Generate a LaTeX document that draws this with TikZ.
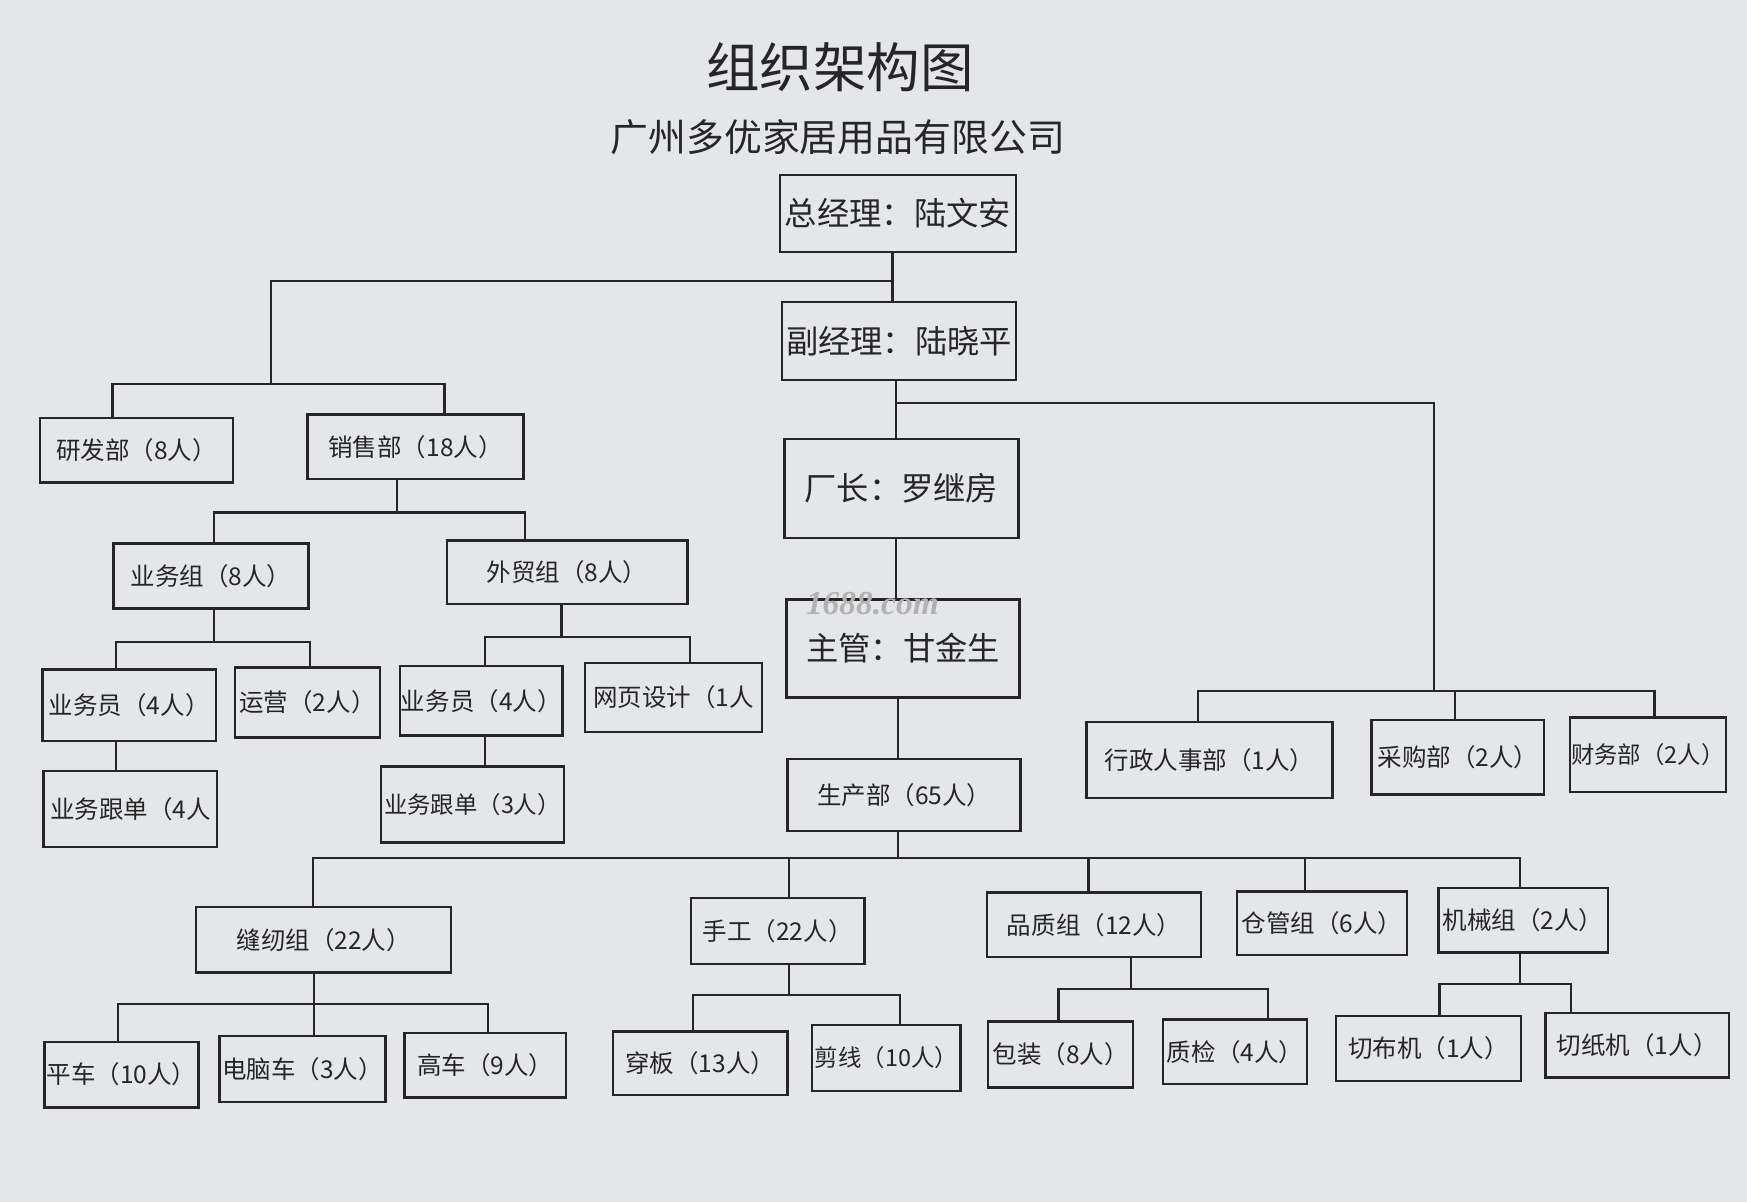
\documentclass[tikz,border=0pt]{standalone}
\usepackage{fontspec}
\setmainfont{Noto Sans CJK SC}
\newfontfamily\wmfont{Liberation Serif}
\definecolor{paper}{HTML}{E5E6E9}
\definecolor{ink}{HTML}{262626}
\tikzset{
  box/.style={draw=ink, line width=1.1pt, inner sep=0pt, text=ink, font=\fontsize{11}{13}\selectfont},
  big/.style={font=\fontsize{14.5}{16}\selectfont},
  tight/.style={font=\fontsize{10.5}{12}\selectfont},
  link/.style={draw=ink, line width=1pt, line join=miter},
}
\newcommand{\orgbox}[7][]{\node[box,#1,minimum width={(#5-#3)*0.5pt},minimum height={(#6-#4)*0.5pt}] (#2) at ({(#3+#5)/2},{(#4+#6)/2}) {#7};}
\begin{document}
\begin{tikzpicture}[x=0.5pt,y=-0.5pt]
\fill[paper] (0,0) rectangle (1568,1079);
\useasboundingbox (0,0) rectangle (1568,1079);

\node[text=ink,font=\fontsize{24}{28}\selectfont] (title) at (754,60) {组织架构图};
\node[text=ink,font=\fontsize{17}{20}\selectfont] (sub) at (752,123) {广州多优家居用品有限公司};

\orgbox[big]{zjl}{700}{157}{912}{226}{总经理：陆文安}
\orgbox[big]{fjl}{702}{271}{912}{341}{副经理：陆晓平}
\orgbox{yfb}{36}{375}{209}{433}{研发部（8人）}
\orgbox{xsb}{276}{372}{470}{430}{销售部（18人）}
\orgbox{ywz}{102}{488}{277}{546}{业务组（8人）}
\orgbox{wmz}{401}{485}{617}{542}{外贸组（8人）}
\orgbox{ywy}{38}{601}{194}{665}{业务员（4人）}
\orgbox{yy}{211}{599}{341}{662}{运营（2人）}
\orgbox{ywgd}{39}{692}{195}{760}{业务跟单（4人}
\orgbox{ywyb}{359}{598}{505}{660}{业务员（4人）}
\orgbox{wysj}{525}{595}{684}{657}{网页设计（1人}
\orgbox[tight]{ywgdb}{342}{688}{506}{756}{业务跟单（3人）}
\orgbox[big]{cz}{704}{394}{914}{483}{厂长：罗继房}
\orgbox[big]{zg}{706}{538}{915}{626}{主管：甘金生}
\orgbox{scb}{707}{681}{916}{746}{生产部（65人）}
\orgbox{xz}{975}{648}{1196}{716}{行政人事部（1人）}
\orgbox{cgb}{1231}{646}{1386}{713}{采购部（2人）}
\orgbox[tight]{cwb}{1409}{644}{1549}{711}{财务部（2人）}
\orgbox{frz}{176}{814}{405}{873}{缝纫组（22人）}
\orgbox{sg}{620}{806}{776}{865}{手工（22人）}
\orgbox{pzz}{886}{801}{1078}{859}{品质组（12人）}
\orgbox{cgz}{1110}{800}{1263}{857}{仓管组（6人）}
\orgbox{jxz}{1291}{797}{1443}{855}{机械组（2人）}
\orgbox{pc}{40}{935}{178}{994}{平车（10人）}
\orgbox{dnc}{197}{930}{346}{989}{电脑车（3人）}
\orgbox{gc}{363}{927}{508}{985}{高车（9人）}
\orgbox{cb}{550}{926}{707}{983}{穿板（13人）}
\orgbox[tight]{jxb}{729}{920}{862}{979}{剪线（10人）}
\orgbox{bz}{887}{917}{1017}{976}{包装（8人）}
\orgbox{zj}{1044}{915}{1173}{973}{质检（4人）}
\orgbox{cbj}{1199}{912}{1365}{970}{切布机（1人）}
\orgbox{czj}{1387}{909}{1552}{967}{切纸机（1人）}

\node[text=gray!60,font=\wmfont\bfseries\itshape\fontsize{15}{17}\selectfont] (wm) at (783,542) {1688.com};

% top
\coordinate (a0) at (801,252);
\coordinate (a2) at (243,345);
\draw[link] (a0 |- zjl.south) -- (a0 |- fjl.north);
\draw[link] (a0) -| (a2);
\coordinate (k1) at (101,345); \coordinate (k2) at (399,345);
\draw[link] (k1 |- yfb.north) -- (k1) -- (k2) -- (k2 |- xsb.north);
% sales
\coordinate (s0) at (356,460); \coordinate (s1) at (192,460); \coordinate (s2) at (471,460);
\draw[link] (s0 |- xsb.south) -- (s0);
\draw[link] (s1 |- ywz.north) -- (s1) -- (s2) -- (s2 |- wmz.north);
\coordinate (u0) at (192,576); \coordinate (u1) at (104,576); \coordinate (u2) at (278,576);
\draw[link] (u0 |- ywz.south) -- (u0);
\draw[link] (u1 |- ywy.north) -- (u1) -- (u2) -- (u2 |- yy.north);
\coordinate (u3) at (104,680);
\draw[link] (u3 |- ywy.south) -- (u3 |- ywgd.north);
\coordinate (w0) at (504,572); \coordinate (w1) at (435,572); \coordinate (w2) at (619,572);
\draw[link] (w0 |- wmz.south) -- (w0);
\draw[link] (w1 |- ywyb.north) -- (w1) -- (w2) -- (w2 |- wysj.north);
\coordinate (w3) at (435,675);
\draw[link] (w3 |- ywyb.south) -- (w3 |- ywgdb.north);
% middle
\coordinate (m0) at (804,362);
\draw[link] (m0 |- fjl.south) -- (m0 |- cz.north);
\coordinate (r0) at (1287,620);
\draw[link] (m0) -| (r0);
\coordinate (r1) at (1075,620); \coordinate (r2) at (1306,620); \coordinate (r3) at (1485,620);
\draw[link] (r1 |- xz.north) -- (r1) -- (r3) -- (r3 |- cwb.north);
\draw[link] (r2) -- (r2 |- cgb.north);
\coordinate (m1) at (804,510);
\draw[link] (m1 |- cz.south) -- (m1 |- zg.north);
\coordinate (m2) at (806,650);
\draw[link] (m2 |- zg.south) -- (m2 |- scb.north);
% production
\coordinate (p0) at (806,770); \coordinate (p1) at (281,770); \coordinate (p2) at (708,770);
\coordinate (p3) at (977,770); \coordinate (p4) at (1171,770); \coordinate (p5) at (1364,770);
\draw[link] (p0 |- scb.south) -- (p0);
\draw[link] (p1 |- frz.north) -- (p1) -- (p5) -- (p5 |- jxz.north);
\draw[link] (p2) -- (p2 |- sg.north);
\draw[link] (p3) -- (p3 |- pzz.north);
\draw[link] (p4) -- (p4 |- cgz.north);
% sewing
\coordinate (f0) at (282,901); \coordinate (f1) at (106,901); \coordinate (f3) at (438,901);
\draw[link] (f0 |- frz.south) -- (f0 |- dnc.north);
\draw[link] (f1 |- pc.north) -- (f1) -- (f3) -- (f3 |- gc.north);
% manual
\coordinate (g0) at (708,893); \coordinate (g1) at (622,893); \coordinate (g2) at (808,893);
\draw[link] (g0 |- sg.south) -- (g0);
\draw[link] (g1 |- cb.north) -- (g1) -- (g2) -- (g2 |- jxb.north);
% quality
\coordinate (q0) at (1015,888); \coordinate (q1) at (950,888); \coordinate (q2) at (1138,888);
\draw[link] (q0 |- pzz.south) -- (q0);
\draw[link] (q1 |- bz.north) -- (q1) -- (q2) -- (q2 |- zj.north);
% machines
\coordinate (j0) at (1364,883); \coordinate (j1) at (1292,883); \coordinate (j2) at (1410,883);
\draw[link] (j0 |- jxz.south) -- (j0);
\draw[link] (j1 |- cbj.north) -- (j1) -- (j2) -- (j2 |- czj.north);
\end{tikzpicture}
\end{document}
